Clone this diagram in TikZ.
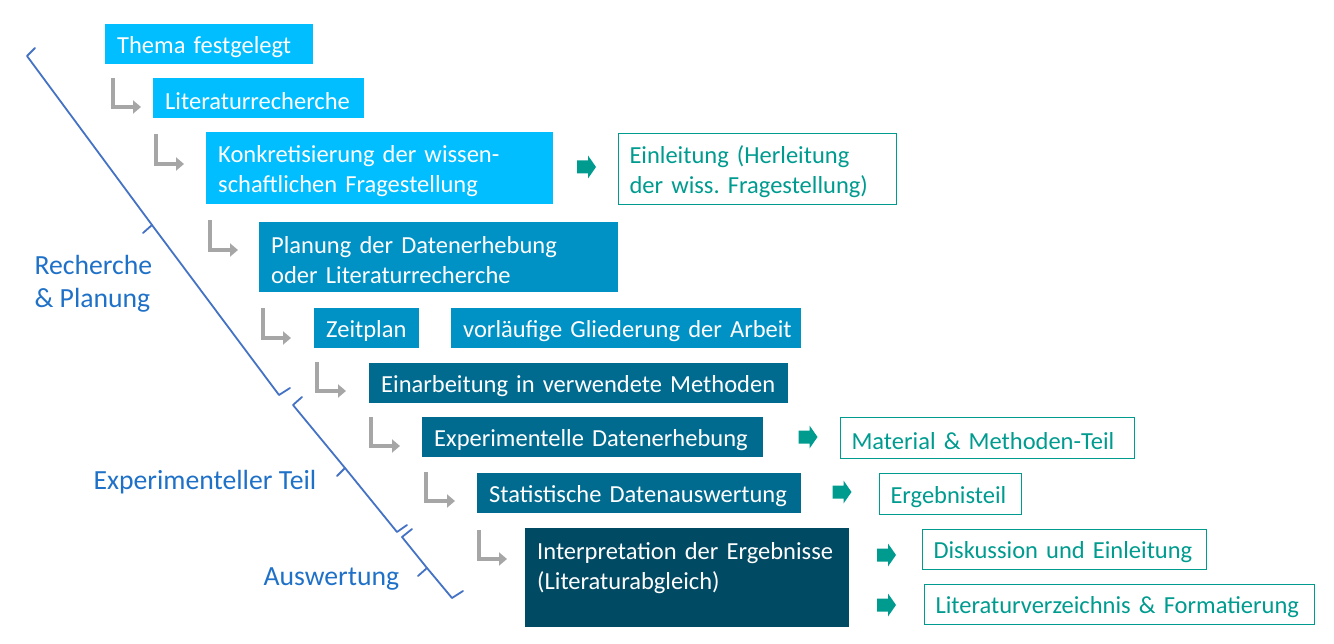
\documentclass[tikz,border=0pt]{standalone}
\usepackage{fontspec}
\setmainfont{Carlito}
\frenchspacing
\usetikzlibrary{arrows.meta}
\definecolor{stufeA}{RGB}{0,190,255}
\definecolor{stufeB}{RGB}{0,145,197}
\definecolor{stufeC}{RGB}{0,107,143}
\definecolor{stufeD}{RGB}{0,74,99}
\definecolor{kapitel}{RGB}{0,155,143}
\definecolor{pfeilgrau}{RGB}{166,166,166}
\definecolor{klammer}{RGB}{68,114,196}
\definecolor{phase}{RGB}{31,113,200}
\tikzset{kapitelpfeil/.pic={\fill[kapitel] (-9.5,-6.5) -- (1.5,-6.5) -- (1.5,-11.5) -- (9.5,0) -- (1.5,11.5) -- (1.5,6.5) -- (-9.5,6.5) -- cycle;}}
\begin{document}
\begin{tikzpicture}[x=1pt,y=-1pt,
    schritt/.style={anchor=north west, inner xsep=12pt, inner ysep=0pt, text height=23pt, align=left, text=white, font=\fontsize{24.5}{30}\selectfont},
    kap/.style={anchor=north west, draw=kapitel, line width=1pt, inner xsep=11pt, inner ysep=0pt, text height=23pt, align=left, text=kapitel, font=\fontsize{24.5}{30}\selectfont},
    weiter/.style={draw=pfeilgrau, line width=4pt, line join=miter, -{Triangle[length=8pt,width=13pt]}},
    phasetext/.style={anchor=west, align=left, text=phase, font=\fontsize{27.7}{33}\selectfont},
    klammerlinie/.style={draw=klammer, line width=1.8pt, line join=round, line cap=round}]
    \useasboundingbox (0,0) rectangle (1334,644);
    % Arbeitsschritte
    \node[schritt, fill=stufeA, text width=184pt, minimum height=40pt] (thema) at (105,24) {Thema festgelegt};
    \node[schritt, fill=stufeA, text width=187pt, minimum height=40pt] (literatur) at (153,78) {Literaturrecherche};
    \node[schritt, fill=stufeA, text width=323pt, minimum height=72pt] (konkret) at (206,132) {Konkretisierung der wissen-\\schaftlichen Fragestellung};
    \node[schritt, fill=stufeB, text width=335pt, minimum height=70pt] (planung) at (259,222) {Planung der Datenerhebung\\oder Literaturrecherche};
    \node[schritt, fill=stufeB, text width=81pt, minimum height=40pt] (zeitplan) at (314,308) {Zeitplan};
    \node[schritt, fill=stufeB, text width=326pt, minimum height=40pt] (gliederung) at (451,308) {\mbox{vorläufige Gliederung der Arbeit}};
    \node[schritt, fill=stufeC, text width=395pt, minimum height=40pt] (einarbeitung) at (369,363) {Einarbeitung in verwendete Methoden};
    \node[schritt, fill=stufeC, text width=317pt, minimum height=40pt] (erhebung) at (422,417) {Experimentelle Datenerhebung};
    \node[schritt, fill=stufeC, text width=300pt, minimum height=40pt] (statistik) at (477,473) {Statistische Datenauswertung};
    \node[schritt, fill=stufeD, text width=300pt, minimum height=99pt] (interpretation) at (525,528) {Interpretation der Ergebnisse\\(Literaturabgleich)\\\mbox{}};
    % Kapitel der Arbeit
    \node[kap, text width=256pt, minimum height=71pt] (einleitung) at (618,133) {Einleitung (Herleitung\\der wiss. Fragestellung)};
    \node[kap, text width=272pt, minimum height=41pt] (methoden) at (840,417) {Material \& Methoden-Teil};
    \node[kap, text width=120pt, minimum height=41pt] (ergebnis) at (879,473) {Ergebnisteil};
    \node[kap, text width=262pt, minimum height=40pt] (diskussion) at (922,529) {Diskussion und Einleitung};
    \node[kap, text width=368pt, minimum height=40pt] (verzeichnis) at (924,584) {Literaturverzeichnis \& Formatierung};
    % Pfeile zum Kapitel
    \pic at (586.5,167) {kapitelpfeil};
    \pic at (808,437) {kapitelpfeil};
    \pic at (842,492) {kapitelpfeil};
    \pic at (886.5,555) {kapitelpfeil};
    \pic at (886.5,605) {kapitelpfeil};
    % graue Winkelpfeile
    \coordinate (w1s) at (113,78);  \coordinate (w1e) at (141,107);
    \coordinate (w2s) at (156,134); \coordinate (w2e) at (184,164);
    \coordinate (w3s) at (210,220); \coordinate (w3e) at (238,250);
    \coordinate (w4s) at (263,308); \coordinate (w4e) at (291,338);
    \coordinate (w5s) at (317,362); \coordinate (w5e) at (346,391);
    \coordinate (w6s) at (371,417); \coordinate (w6e) at (400,446);
    \coordinate (w7s) at (426,472); \coordinate (w7e) at (455,501);
    \coordinate (w8s) at (479,530); \coordinate (w8e) at (507,559);
    \foreach \i in {1,...,8}
        \draw[weiter] (w\i s) |- (w\i e);
    % Klammern der Phasen
    \draw[klammerlinie] (35,48) -- (27,56) -- (152,225) -- (143,233) (152,225) -- (279,395) -- (290,388);
    \draw[klammerlinie] (302,397) -- (293,405) -- (345,468) -- (337,476) (345,468) -- (397,532) -- (407,525);
    \draw[klammerlinie] (412,529) -- (402,537) -- (427,568) -- (418,576) (427,568) -- (452,598) -- (463,591);
    % Phasen
    \node[phasetext] (recherche) at (31,284) {Recherche\\\& Planung};
    \node[phasetext] (experiment) at (90,482) {Experimenteller Teil};
    \node[phasetext] (auswertung) at (260,579) {Auswertung};
\end{tikzpicture}
\end{document}
